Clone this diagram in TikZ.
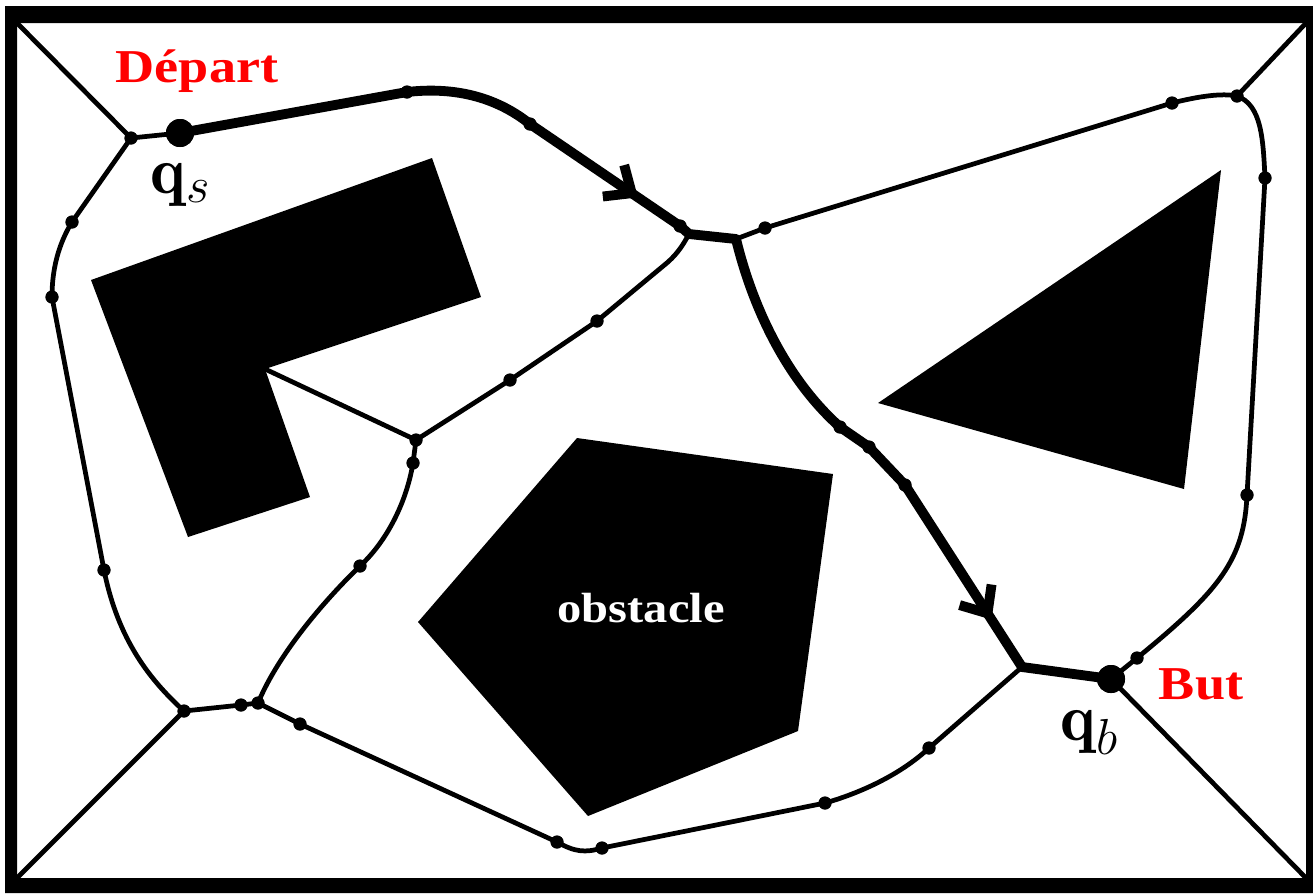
\documentclass[tikz,border=0pt]{standalone}
\usepackage{fontspec}
\newfontfamily\lsf{Liberation Serif}
\usetikzlibrary{arrows.meta,decorations.markings}
\begin{document}
\begin{tikzpicture}[x=0.01cm,y=-0.01cm,
  edge/.style={line width=1.35pt, line join=round, line cap=round},
  route/.style={line width=2.8pt, line join=round, line cap=round},
  vdot/.style={circle, fill=black, inner sep=0pt, minimum size=0.13cm},
  qdot/.style={circle, fill=black, inner sep=0pt, minimum size=0.28cm},
  chev/.style={postaction={decorate}, decoration={markings,
      mark=at position #1 with {\arrow{Straight Barb[length=2.2mm,width=3.8mm]}}}},
  lbl/.style={text=red, font=\lsf\bfseries\fontsize{13.4}{16}\selectfont, xscale=1.15, transform shape, anchor=base, inner sep=0pt},
  qlbl/.style={font=\fontsize{19}{22}\selectfont, anchor=base, inner sep=0pt}
]
\useasboundingbox (0,0) rectangle (1313,893);
% frame
\fill[even odd rule] (5,6) rectangle (1313,893) (17,23) rectangle (1306,878);
\coordinate (TL) at (17,23);
\coordinate (TR) at (1306,23);
\coordinate (BL) at (17,878);
\coordinate (BR) at (1306,878);
% obstacles
\fill (91,280) -- (432,158) -- (481,297) -- (265,369) -- (310,497) -- (188,537) -- cycle;
\fill (1221,170) -- (878,403) -- (1184,489) -- cycle;
\fill (577,438) -- (833,474) -- (798,731) -- (588,816) -- (418,622) -- cycle;
\coordinate (Lc) at (265,369);
% vertices
\node[vdot] (A) at (131,138) {};
\node[qdot] (qs) at (180,133) {};
\node[vdot] (t1) at (407,92) {};
\node[vdot] (t2) at (530,124) {};
\node[vdot] (c1) at (680,226) {};
\coordinate (C) at (689,234);
\coordinate (D) at (736,239);
\node[vdot] (d1) at (765,228) {};
\node[vdot] (r1) at (1172,103) {};
\node[vdot] (F) at (1237,96) {};
\node[vdot] (r2) at (1265,178) {};
\node[vdot] (r3) at (1247,495) {};
\node[vdot] (r4) at (1137,658) {};
\node[qdot] (qb) at (1111,679) {};
\coordinate (E) at (1022,667);
\node[vdot] (m1) at (840,427) {};
\node[vdot] (m2) at (869,447) {};
\node[vdot] (m3) at (905,485) {};
\node[vdot] (g1) at (597,321) {};
\node[vdot] (g2) at (510,380) {};
\node[vdot] (G) at (416,440) {};
\node[vdot] (g3) at (413,463) {};
\node[vdot] (g4) at (360,566) {};
\node[vdot] (H) at (258,703) {};
\node[vdot] (b1) at (241,705) {};
\node[vdot] (B) at (184,711) {};
\node[vdot] (l1) at (72,222) {};
\node[vdot] (l2) at (52,297) {};
\node[vdot] (l3) at (104,570) {};
\node[vdot] (h1) at (300,724) {};
\node[vdot] (w1) at (557,842) {};
\node[vdot] (w2) at (602,848) {};
\node[vdot] (w3) at (825,803) {};
\node[vdot] (w4) at (929,748) {};
% thin edges
\draw[edge] (TL) -- (A.center) -- (qs.center);
\draw[edge] (A.center) -- (l1.center) .. controls (58,245) and (52,270) .. (l2.center) -- (l3.center) .. controls (118,640) and (150,680) .. (B.center);
\draw[edge] (BL) -- (B.center) -- (b1.center) -- (H.center);
\draw[edge] (H.center) -- (h1.center) -- (w1.center) .. controls (575,852) and (585,853) .. (w2.center) -- (w3.center) .. controls (860,793) and (900,775) .. (w4.center) -- (E);
\draw[edge] (H.center) .. controls (280,650) and (330,595) .. (g4.center) .. controls (385,543) and (406,505) .. (g3.center) -- (G.center);
\draw[edge] (G.center) -- (Lc);
\draw[edge] (G.center) -- (g2.center) -- (g1.center) -- (668,262) .. controls (679,252) and (684,243) .. (C);
\draw[edge] (D) -- (d1.center) -- (r1.center) .. controls (1200,96) and (1222,93) .. (F.center);
\draw[edge] (TR) -- (F.center) .. controls (1262,105) and (1263,140) .. (r2.center) -- (r3.center) .. controls (1244,560) and (1220,590) .. (r4.center) -- (qb.center) -- (BR);
% thick route
\draw[route] (qs.center) -- (t1.center) .. controls (460,86) and (500,100) .. (t2.center);
\draw[route, chev=0.72] (t2.center) -- (c1.center);
\draw[route] (c1.center) -- (C) -- (D) .. controls (752,305) and (785,378) .. (m1.center) -- (m2.center) -- (m3.center);
\draw[route, chev=0.74] (m3.center) -- (E);
\draw[route] (E) -- (qb.center);
% redraw dots on top
\foreach \n in {A,t1,t2,c1,d1,r1,F,r2,r3,r4,m1,m2,m3,g1,g2,G,g3,g4,H,b1,B,l1,l2,l3,h1,w1,w2,w3,w4}
  \fill (\n.center) circle (0.065cm);
\fill (qs.center) circle (0.14cm);
\fill (qb.center) circle (0.14cm);
% labels
\node[lbl] (tdep) at (197,82) {Départ};
\node[lbl] (tbut) at (1201,699) {But};
\node[lbl, text=white, font=\lsf\bfseries\fontsize{12}{14}\selectfont] (tobs) at (641,622) {obstacle};
\node[qlbl] (tqs) at (181,193) {$\mathbf{q}_s$};
\node[qlbl] (tqb) at (1090,740) {$\mathbf{q}_b$};
\end{tikzpicture}
\end{document}
